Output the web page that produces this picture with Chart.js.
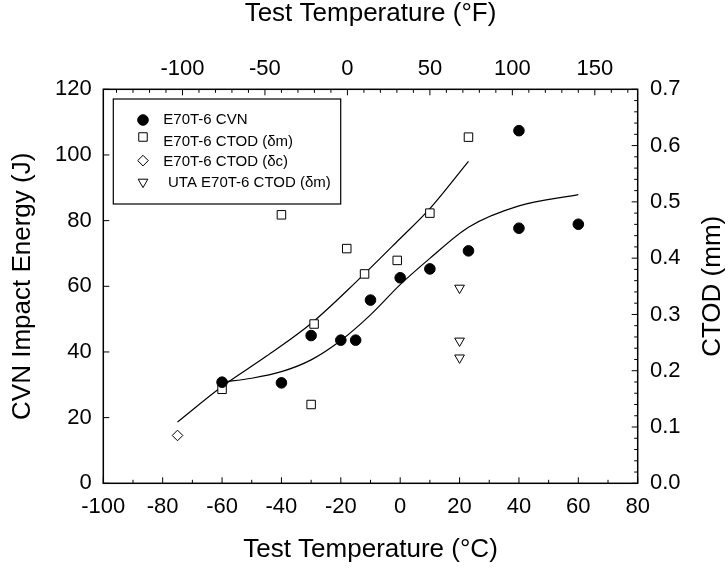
<!DOCTYPE html>
<html>
<head>
<meta charset="utf-8">
<script src="https://cdn.jsdelivr.net/npm/chart.js@4.4.1/dist/chart.umd.min.js"></script>
<style>
  html, body { margin: 0; padding: 0; background: #fff; }
  #wrap { width: 728px; height: 573px; }
</style>
</head>
<body>
<div id="wrap"><canvas id="myChart" width="728" height="573"></canvas></div>
<script>
// CVN impact energy (J) against test temperature (°C)
const cvnTemp = [-60, -40, -30, -20, -15, -10, 0, 10, 23, 40, 40, 60];
const cvnEnergy = [30.8, 30.6, 45.0, 43.6, 43.6, 55.8, 62.6, 65.3, 70.8, 77.7, 107.4, 78.9];

// CTOD results (mm), right axis
const ctodTemp = [-60, -40, -30, -29, -18, -12, -1, 10, 23];
const ctodDm = [0.167, 0.477, 0.140, 0.283, 0.417, 0.372, 0.396, 0.480, 0.615];
const ctodDcTemp = [-75];
const ctodDc = [0.085];
const utaTemp = [20, 20, 20];
const utaDm = [0.347, 0.253, 0.223];

// fitted curves
const cvnFitTemp = [-60, -50, -40, -30, -20, -10, 0, 10, 23, 40, 60];
const cvnFitEnergy = [30.8, 32, 34, 37.6, 43.5, 51.3, 60.5, 68.5, 78, 84.5, 87.9];
const ctodFitTemp = [-75, -60, -45, -30, -15, 0, 10, 23];
const ctodFitMm = [0.109, 0.172, 0.226, 0.284, 0.357, 0.435, 0.488, 0.572];

const seriesNames = ['E70T-6 CVN', 'E70T-6 CTOD (δm)', 'E70T-6 CTOD (δc)', 'UTA E70T-6 CTOD (δm)'];

// axis ticks
const cTicks = [-100, -80, -60, -40, -20, 0, 20, 40, 60, 80];
const fTicks = [-100, -50, 0, 50, 100, 150];
const jTicks = [0, 20, 40, 60, 80, 100, 120];
const mmTicks = [0, 0.1, 0.2, 0.3, 0.4, 0.5, 0.6, 0.7];

const cMin = -100, cMax = 80;
const toF = c => c * 1.8 + 32;
const pts = (xs, ys) => xs.map((x, i) => ({ x: x, y: ys[i] }));

const FONT = '"Liberation Sans", Arial, sans-serif';
Chart.defaults.font.family = FONT;
Chart.defaults.color = '#000';

const tickFont = { size: 22 };
const titleFont = { size: 26, lineHeight: 1 };

// frame + inward ticks on all four sides
const frameTicks = {
  id: 'frameTicks',
  afterDatasetsDraw(chart) {
    const { ctx, chartArea: a, scales } = chart;
    ctx.save();
    ctx.strokeStyle = '#000';
    ctx.lineWidth = 1;
    const tick = (x1, y1, x2, y2) => { ctx.beginPath(); ctx.moveTo(x1, y1); ctx.lineTo(x2, y2); ctx.stroke(); };
    for (let v = cMin; v <= cMax; v += 10) {
      const x = scales.x.getPixelForValue(v);
      tick(x, a.bottom, x, a.bottom - (v % 20 === 0 ? 6 : 3.5));
    }
    for (let v = -140; v <= toF(cMax); v += 10) {
      const x = scales.x2.getPixelForValue(v);
      tick(x, a.top, x, a.top + (v % 50 === 0 ? 6 : 3.5));
    }
    jTicks.forEach(v => {
      const y = scales.y.getPixelForValue(v);
      tick(a.left, y, a.left + 6, y);
    });
    for (let i = 0; i <= 35; i++) {
      const y = scales.y2.getPixelForValue(i * 0.02);
      tick(a.right, y, a.right - (i % 5 === 0 ? 6 : 3.5), y);
    }
    ctx.lineWidth = 1.5;
    ctx.strokeRect(a.left, a.top, a.right - a.left, a.bottom - a.top);
    ctx.restore();
  }
};

// boxed legend inside the plot, plus right axis title read bottom-to-top
const boxLegend = {
  id: 'boxLegend',
  afterDraw(chart) {
    const { ctx, chartArea: a, scales } = chart;
    ctx.save();
    const bx = a.left + 10, by = a.top + 9.7;
    ctx.strokeStyle = '#000';
    ctx.lineWidth = 1.2;
    ctx.strokeRect(bx, by, 227.4, 105);
    const markerY = [21, 38, 61.6, 83];
    const textY = [20.5, 43, 62.6, 84];
    const textX = [50, 50, 50, 54.7];
    ctx.font = '15px ' + FONT;
    ctx.textBaseline = 'middle';
    ctx.textAlign = 'left';
    for (let i = 0; i < 4; i++) {
      const ds = chart.data.datasets[i];
      ctx.fillStyle = ds.backgroundColor;
      ctx.strokeStyle = ds.borderColor;
      ctx.lineWidth = ds.borderWidth;
      Chart.helpers.drawPoint(ctx, {
        pointStyle: ds.pointStyle,
        rotation: ds.rotation || 0,
        radius: ds.pointRadius,
        borderWidth: ds.borderWidth
      }, bx + 29.7, by + markerY[i]);
      ctx.fillStyle = '#000';
      ctx.fillText(seriesNames[i], bx + textX[i], by + textY[i]);
    }
    ctx.translate(scales.y2.right - 15.5, (a.top + a.bottom) / 2);
    ctx.rotate(-Math.PI / 2);
    ctx.font = '26px ' + FONT;
    ctx.textAlign = 'center';
    ctx.fillStyle = '#000';
    ctx.fillText('CTOD (mm)', 0, 0);
    ctx.restore();
  }
};

const ctx = document.getElementById('myChart');

new Chart(ctx, {
  type: 'scatter',
  data: {
    datasets: [
      {
        label: seriesNames[0],
        data: pts(cvnTemp, cvnEnergy),
        yAxisID: 'y',
        pointStyle: 'circle',
        pointRadius: 5.3,
        backgroundColor: '#000',
        borderColor: '#000',
        borderWidth: 1
      },
      {
        label: seriesNames[1],
        data: pts(ctodTemp, ctodDm),
        yAxisID: 'y2',
        pointStyle: 'rect',
        pointRadius: 6,
        backgroundColor: '#fff',
        borderColor: '#000',
        borderWidth: 1
      },
      {
        label: seriesNames[2],
        data: pts(ctodDcTemp, ctodDc),
        yAxisID: 'y2',
        pointStyle: 'rectRot',
        pointRadius: 5.3,
        backgroundColor: '#fff',
        borderColor: '#000',
        borderWidth: 1
      },
      {
        label: seriesNames[3],
        data: pts(utaTemp, utaDm),
        yAxisID: 'y2',
        pointStyle: 'triangle',
        rotation: 180,
        pointRadius: 5.6,
        backgroundColor: '#fff',
        borderColor: '#000',
        borderWidth: 1
      },
      {
        label: 'CVN fit',
        data: pts(cvnFitTemp, cvnFitEnergy),
        yAxisID: 'y',
        showLine: true,
        cubicInterpolationMode: 'monotone',
        pointRadius: 0,
        borderColor: '#000',
        borderWidth: 1.2
      },
      {
        label: 'CTOD fit',
        data: pts(ctodFitTemp, ctodFitMm),
        yAxisID: 'y2',
        showLine: true,
        cubicInterpolationMode: 'monotone',
        pointRadius: 0,
        borderColor: '#000',
        borderWidth: 1.2
      }
    ]
  },
  options: {
    responsive: false,
    animation: false,
    events: [],
    layout: { padding: 0 },
    plugins: { legend: { display: false }, tooltip: { enabled: false } },
    scales: {
      x: {
        type: 'linear', position: 'bottom', min: cMin, max: cMax,
        afterBuildTicks: s => { s.ticks = cTicks.map(v => ({ value: v })); },
        afterFit: s => { s.height = 89.7; },
        grid: { display: false, drawTicks: false },
        border: { display: false },
        ticks: { font: tickFont, padding: 10, maxRotation: 0, autoSkip: false },
        title: { display: true, text: 'Test Temperature (°C)', font: titleFont, padding: { top: 0, bottom: 10 } }
      },
      x2: {
        type: 'linear', position: 'top', min: toF(cMin), max: toF(cMax),
        afterBuildTicks: s => { s.ticks = fTicks.map(v => ({ value: v })); },
        afterFit: s => { s.height = 89.3; },
        grid: { display: false, drawTicks: false },
        border: { display: false },
        ticks: { font: tickFont, padding: 7.6, maxRotation: 0, autoSkip: false },
        title: { display: true, text: 'Test Temperature (°F)', font: titleFont, padding: { top: 1, bottom: 0 } }
      },
      y: {
        type: 'linear', position: 'left', min: 0, max: 120,
        afterBuildTicks: s => { s.ticks = jTicks.map(v => ({ value: v })); },
        afterFit: s => { s.width = 103.3; },
        grid: { display: false, drawTicks: false },
        border: { display: false },
        ticks: { font: tickFont, padding: 11.6, autoSkip: false },
        title: { display: true, text: 'CVN Impact Energy (J)', font: titleFont, padding: { top: 10, bottom: 0 } }
      },
      y2: {
        type: 'linear', position: 'right', min: 0, max: 0.7,
        afterBuildTicks: s => { s.ticks = mmTicks.map(v => ({ value: v })); },
        afterFit: s => { s.width = 90.3; },
        grid: { display: false, drawTicks: false },
        border: { display: false },
        ticks: { font: tickFont, padding: 12.3, autoSkip: false, callback: v => v.toFixed(1) }
      }
    }
  },
  plugins: [frameTicks, boxLegend]
});
</script>
</body>
</html>
